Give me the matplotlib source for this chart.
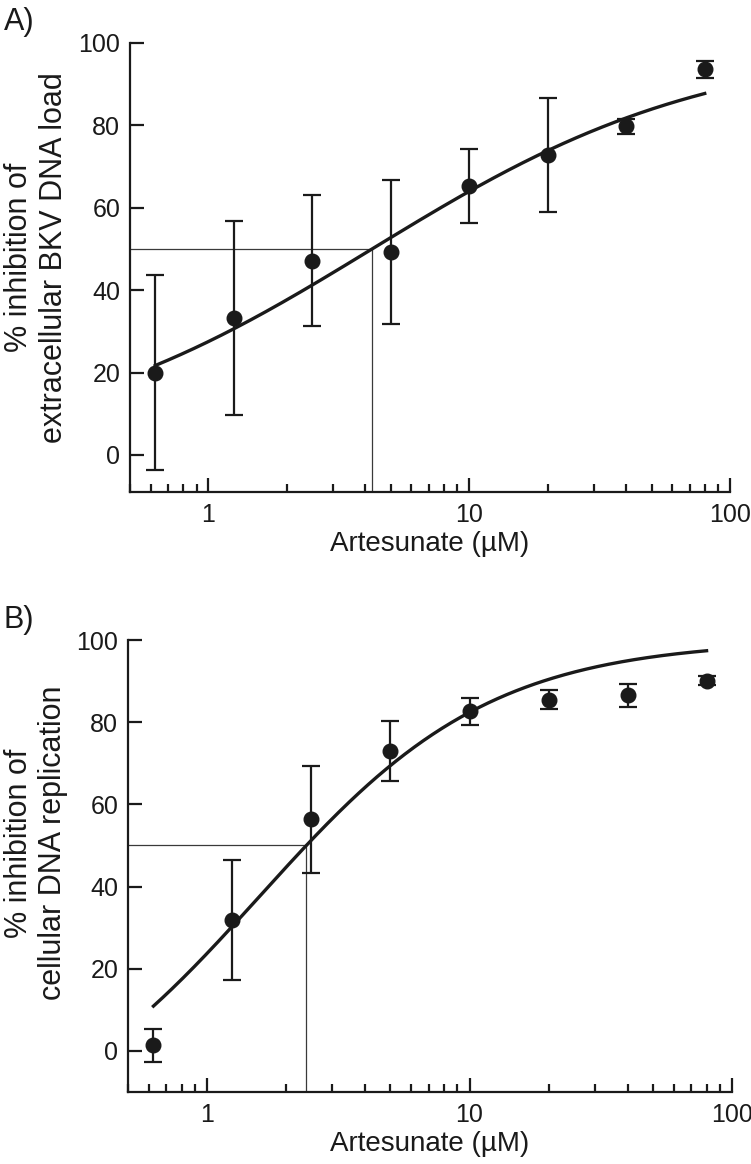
import numpy as np
import matplotlib
matplotlib.use("Agg")
import matplotlib.pyplot as plt
from matplotlib.ticker import LogLocator, NullFormatter, FixedLocator, FixedFormatter

plt.rcParams['font.family'] = ['Liberation Sans', 'DejaVu Sans']

# ---- data ----
conc = [0.625, 1.25, 2.5, 5, 10, 20, 40, 80]

a_mean = [20.0, 33.2, 47.1, 49.3, 65.3, 72.8, 79.8, 93.6]
a_err = [23.7, 23.5, 15.9, 17.4, 9.0, 13.8, 1.8, 2.1]

b_mean = [1.4, 31.8, 56.4, 73.0, 82.6, 85.5, 86.6, 90.1]
b_err = [4.0, 14.6, 13.0, 7.2, 3.2, 2.3, 2.8, 1.1]

# fitted dose-response parameters (bottom, top, EC, hill)
a_fit = dict(bottom=0.0, top=100.0, ec=4.24, hill=0.67)
b_fit = dict(bottom=-25.0, top=100.0, ec=1.58, hill=0.98)

xticks = [1, 10, 100]
xticklabels = ["1", "10", "100"]
yticks = [0, 20, 40, 60, 80, 100]
yticklabels = ["0", "20", "40", "60", "80", "100"]

xlabel = "Artesunate (µM)"
a_ylabel = "% inhibition of\nextracellular BKV DNA load"
b_ylabel = "% inhibition of\ncellular DNA replication"

INK = '#1a1a1a'


def hill(x, p):
    return p['bottom'] + (p['top'] - p['bottom']) / (1 + (p['ec'] / x) ** p['hill'])


def x_at_50(p):
    s = (50 - p['bottom']) / (p['top'] - p['bottom'])
    return p['ec'] * (s / (1 - s)) ** (1 / p['hill'])


fig = plt.figure(figsize=(7.51, 11.64), dpi=100)
axA = fig.add_axes([130 / 751, (1164 - 492) / 1164, 600 / 751, 449 / 1164])
axB = fig.add_axes([128 / 751, (1164 - 1092) / 1164, 604 / 751, 452 / 1164])


def draw(ax, mean, err, fit, ylabel, ymin, ylab_x, ylab_y):
    ax.set_xscale('log')
    ax.set_xlim(0.5, 100)
    ax.set_ylim(ymin, 100)
    xs = np.logspace(np.log10(conc[0]), np.log10(conc[-1]), 300)
    ax.plot(xs, hill(xs, fit), color=INK, lw=2.4, zorder=3)
    x50 = x_at_50(fit)
    ax.plot([0.5, x50], [50, 50], color='#3a3a3a', lw=0.9, zorder=2)
    ax.plot([x50, x50], [ymin, 50], color='#3a3a3a', lw=0.9, zorder=2)
    ax.errorbar(conc, mean, yerr=err, fmt='o', color=INK, ms=10.5,
                elinewidth=1.6, capsize=6.5, capthick=1.6, zorder=4)
    for s in ['top', 'right']:
        ax.spines[s].set_visible(False)
    for s in ['left', 'bottom']:
        ax.spines[s].set_linewidth(1.6)
        ax.spines[s].set_color(INK)
    ax.yaxis.set_major_locator(FixedLocator(yticks))
    ax.yaxis.set_major_formatter(FixedFormatter(yticklabels))
    ax.xaxis.set_major_locator(FixedLocator(xticks))
    ax.xaxis.set_major_formatter(FixedFormatter(xticklabels))
    ax.xaxis.set_minor_locator(LogLocator(base=10, subs=np.arange(2, 10)))
    ax.xaxis.set_minor_formatter(NullFormatter())
    ax.tick_params(axis='both', which='major', direction='in', length=10,
                   width=1.6, color=INK, labelsize=18, labelcolor=INK)
    ax.tick_params(axis='x', which='major', pad=8)
    ax.tick_params(axis='y', which='major', pad=7)
    ax.tick_params(axis='x', which='minor', direction='in', length=6,
                   width=1.6, color=INK)
    ax.set_xlabel(xlabel, fontsize=20, color=INK, labelpad=3)
    ax.set_ylabel(ylabel, fontsize=22, color=INK, linespacing=1.2)
    ax.yaxis.set_label_coords(ylab_x, ylab_y)


draw(axA, a_mean, a_err, a_fit, a_ylabel, -9, -0.102, 0.523)
draw(axB, b_mean, b_err, b_fit, b_ylabel, -10, -0.099, 0.551)

fig.text(0.005, 1 - 30 / 1164, "A)", fontsize=22, color=INK, va='baseline', ha='left')
fig.text(0.005, 1 - 628 / 1164, "B)", fontsize=22, color=INK, va='baseline', ha='left')

fig.savefig("out.png", dpi=100)
